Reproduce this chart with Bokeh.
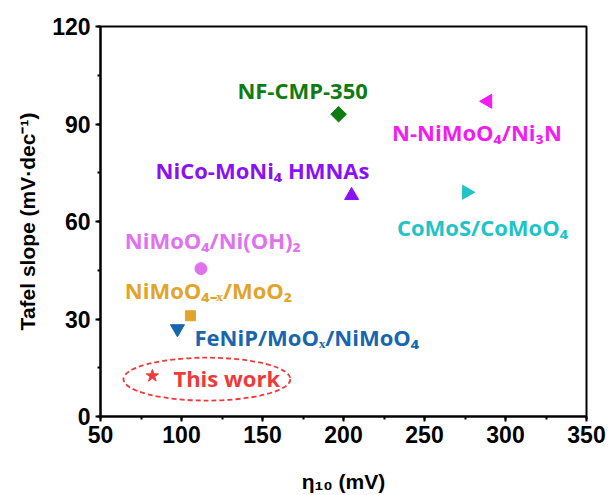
import math
from bokeh.plotting import figure
from bokeh.models import ColumnDataSource, Range1d, SingleIntervalTicker
from bokeh.core.properties import value
from bokeh.embed import file_html
from bokeh.resources import INLINE

# Catalysts compared by overpotential at 10 mA/cm2 and Tafel slope
materials = [
    "NF-CMP-350",
    "N-NiMoO₄/Ni₃N",
    "NiCo-MoNi₄ HMNAs",
    "CoMoS/CoMoO₄",
    "NiMoO₄/Ni(OH)₂",
    "NiMoO₄₋ₓ/MoO₂",
    "FeNiP/MoOₓ/NiMoO₄",
    "This work",
]
eta10 = [197, 289, 205, 276, 112, 105.5, 97.5, 82]      # mV
tafel = [93, 97, 68, 69, 45.5, 31, 27, 12.5]            # mV/dec

colors = ["#0e7c12", "#f21cee", "#8a12f2", "#1fc4c6",
          "#e072f0", "#e2a42c", "#1766ae", "#ef3a3a"]
markers = ["square", "triangle", "triangle", "triangle",
           "circle", "square", "inverted_triangle", "star"]
angles = [math.pi / 4, math.pi / 2, 0, -math.pi / 2, 0, 0, 0, 0]
sizes = [11, 14, 14, 14, 12, 10, 14, 13]

# Where each caption starts (left edge, vertical middle), in data units
label_x = [134.5, 230, 84, 233, 65, 65, 108, 95]
label_y = [100.6, 87.4, 75.7, 58.2, 54.2, 38.8, 24.6, 12]

p = figure(width=609, height=495, output_backend="svg", toolbar_location=None,
           x_range=Range1d(50, 350), y_range=Range1d(0, 120),
           min_border_left=100, min_border_right=23,
           min_border_top=26, min_border_bottom=79)

p.xgrid.visible = False
p.ygrid.visible = False
p.outline_line_color = "black"
p.outline_line_width = 2
p.background_fill_color = "white"
p.border_fill_color = "white"

p.xaxis.ticker = SingleIntervalTicker(interval=50, num_minor_ticks=2)
p.yaxis.ticker = SingleIntervalTicker(interval=30, num_minor_ticks=2)

for ax in (p.xaxis, p.yaxis):
    ax.axis_line_width = 2
    ax.axis_line_color = "black"
    ax.major_tick_line_width = 2
    ax.minor_tick_line_width = 2
    ax.major_tick_in = 0
    ax.major_tick_out = 5
    ax.minor_tick_in = 0
    ax.minor_tick_out = 3
    ax.major_label_text_font = "Liberation Sans"
    ax.major_label_text_font_style = "bold"
    ax.major_label_text_font_size = "23px"
    ax.major_label_text_color = "black"
    ax.axis_label_text_font = "Liberation Sans"
    ax.axis_label_text_font_style = "bold"
    ax.axis_label_text_font_size = "21px"
    ax.axis_label_text_color = "black"

p.xaxis.axis_label = "η₁₀ (mV)"
p.yaxis.axis_label = "Tafel slope (mV·dec⁻¹)"
p.xaxis.major_label_standoff = 4
p.yaxis.major_label_standoff = 5
p.xaxis.axis_label_standoff = 24
p.yaxis.axis_label_standoff = 10

src = ColumnDataSource(dict(x=eta10, y=tafel, marker=markers, color=colors,
                            angle=angles, size=sizes))
p.scatter(x="x", y="y", marker="marker", size="size", angle="angle",
          fill_color="color", line_color="color", source=src)

lab = ColumnDataSource(dict(x=label_x, y=label_y, text=materials, color=colors))
p.text(x="x", y="y", text="text", text_color="color", source=lab,
       text_font=value("Open Sans"), text_font_style="bold",
       text_font_size="22px", text_align="left", text_baseline="middle")

# Dashed ring highlighting this work
p.ellipse(x=115.7, y=11.5, width=103, height=13.2, fill_color=None,
          line_color="#ef3a3a", line_width=1.8, line_dash="5 3")

open("out.html", "w").write(file_html(p, INLINE))
